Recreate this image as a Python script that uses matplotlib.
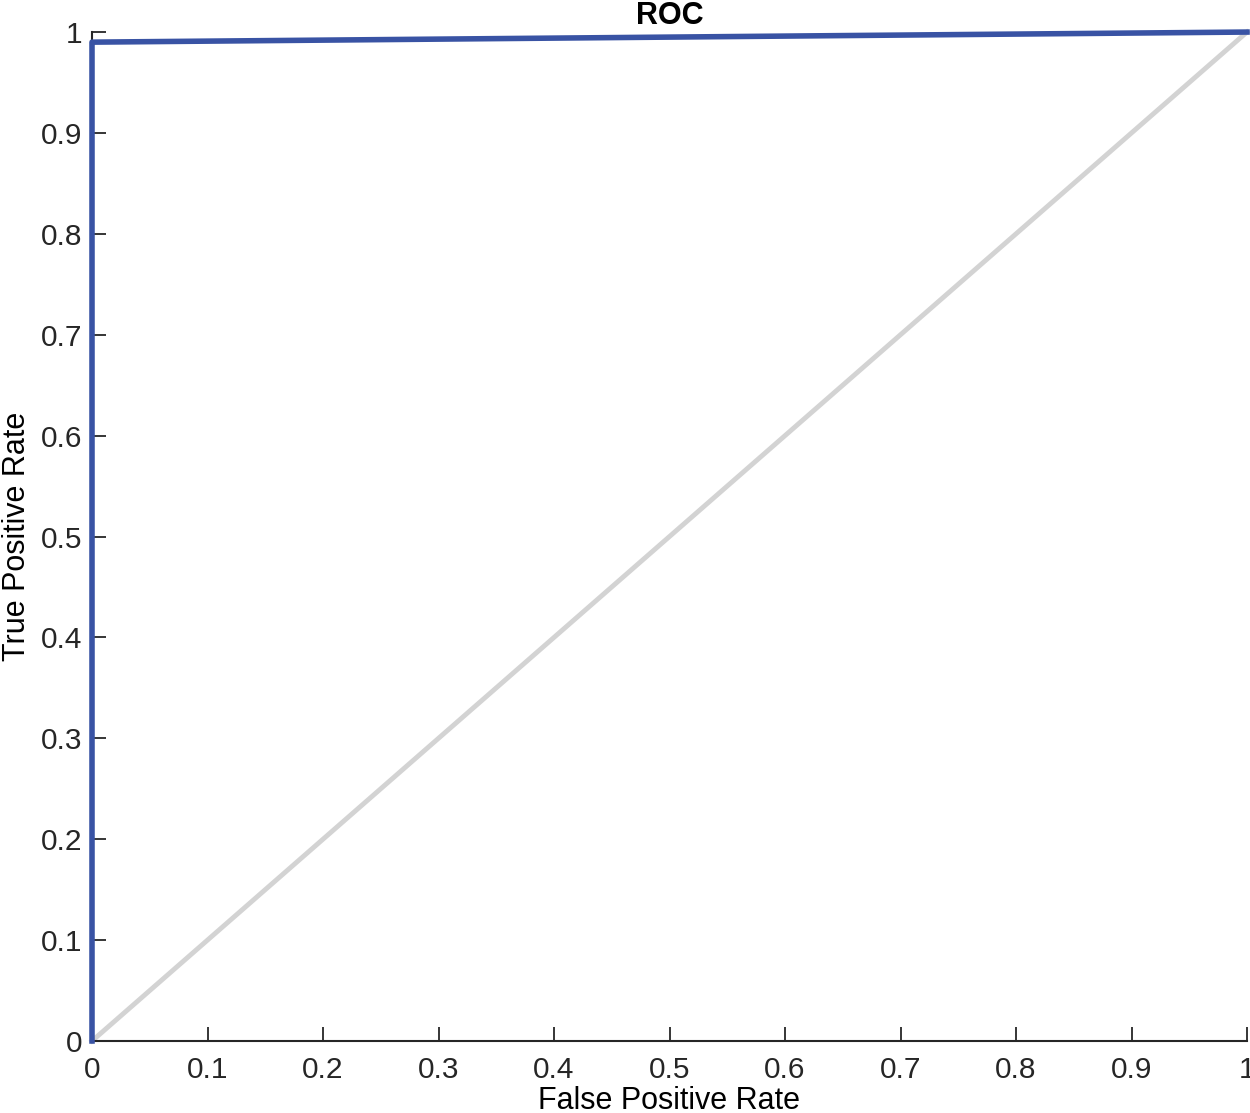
import matplotlib
matplotlib.use("Agg")
import matplotlib.pyplot as plt

fpr = [0.0, 0.0, 1.0]
tpr = [0.0, 0.99, 1.0]
diag_x = [0.0, 1.0]
diag_y = [0.0, 1.0]
xticks = [0, 0.1, 0.2, 0.3, 0.4, 0.5, 0.6, 0.7, 0.8, 0.9, 1]
xticklabels = ["0", "0.1", "0.2", "0.3", "0.4", "0.5", "0.6", "0.7", "0.8", "0.9", "1"]
yticks = xticks
yticklabels = xticklabels

plt.rcParams['font.family'] = ['Liberation Sans', 'DejaVu Sans']
fig = plt.figure(figsize=(12.5, 11.13), dpi=100)
ax = fig.add_axes([0.0736, 0.0647, 0.924, 0.9065])
ax.plot(diag_x, diag_y, color='#d3d3d3', lw=3.5, zorder=2, clip_on=False)
ax.plot(fpr, tpr, color='#3953a4', lw=4, zorder=3, clip_on=False)
ax.set_xlim(0, 1)
ax.set_ylim(0, 1)
ax.set_xticks(xticks)
ax.set_xticklabels(xticklabels)
ax.set_yticks(yticks)
ax.set_yticklabels(yticklabels)
for s in ['top', 'right']:
    ax.spines[s].set_visible(False)
for s in ['left', 'bottom']:
    ax.spines[s].set_linewidth(1.5)
    ax.spines[s].set_color('#262626')
ax.tick_params(direction='in', length=10, width=1.3, labelsize=21.5, colors='#262626')
ax.tick_params(axis='x', pad=11)
ax.tick_params(axis='y', pad=7)
ax.set_xlabel('False Positive Rate', fontsize=22, labelpad=1)
ax.set_ylabel('True Positive Rate', fontsize=22, labelpad=6)
ax.set_title('ROC', fontsize=22, fontweight='bold', pad=6)
fig.savefig('out.png', dpi=100)
